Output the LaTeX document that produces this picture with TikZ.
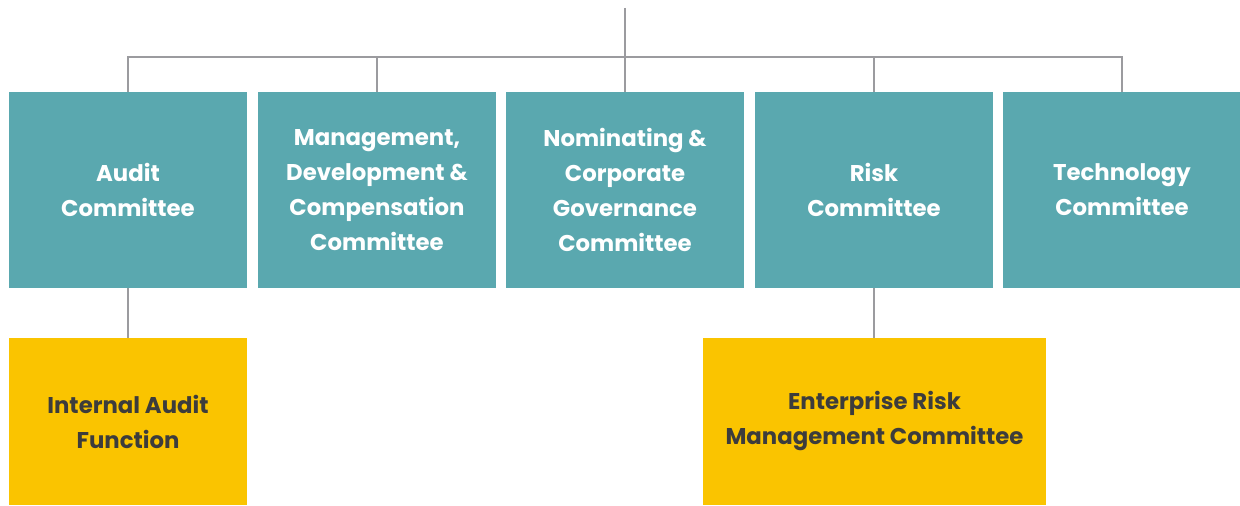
\documentclass[tikz,border=0pt]{standalone}
\usepackage{fontspec}
\setmainfont{Poppins}
\definecolor{teal}{HTML}{5AA8AF}
\definecolor{gold}{HTML}{FAC400}
\definecolor{ink}{HTML}{3C3C3C}
\definecolor{wire}{HTML}{9B9B9F}
\begin{document}
\begin{tikzpicture}[x=0.5pt, y=-0.5pt,
    committee/.style={fill=teal, text=white, minimum width=119pt, minimum height=98pt,
        inner sep=0, align=center, font=\bfseries\fontsize{11.4}{17.5}\selectfont},
    unit/.style={fill=gold, text=ink, minimum height=83.5pt,
        inner sep=0, align=center, font=\bfseries\fontsize{11.4}{17.5}\selectfont},
    link/.style={draw=wire, line width=1pt}]
    \useasboundingbox (0,0) rectangle (1240,506);
    \pgfmathsetmacro{\top}{190}
	\node[committee] (audit) at (128,\top) {Audit\\Committee};
	\node[committee] (mdcc) at (377,\top) {Management,\\Development \&\\Compensation\\Committee};
	\node[committee] (ncgc) at (625,\top) {Nominating \&\\Corporate\\Governance\\Committee};
	\node[committee] (risk) at (874,\top) {Risk\\Committee};
	\node[committee] (tech) at (1122,\top) {Technology\\Committee};
	\node[unit, minimum width=119pt] (iaf) at (128,421.5) {Internal Audit\\Function};
	\node[unit, minimum width=171.5pt] (erm) at (874.5,421.5) {Enterprise Risk\\Management Committee};
	\coordinate (board) at (625,8);
	\coordinate (bus) at (625,57);
	\draw[link] (board) -- (bus);
	\draw[link] (audit.north) -- (audit.north |- bus) -- (tech.north |- bus) -- (tech.north);
	\foreach \c in {mdcc, ncgc, risk}
	    \draw[link] (\c.north) -- (\c.north |- bus);
	\draw[link] (audit.south) -- (iaf.north);
	\draw[link] (risk.south) -- (risk.south |- erm.north);
\end{tikzpicture}
\end{document}
